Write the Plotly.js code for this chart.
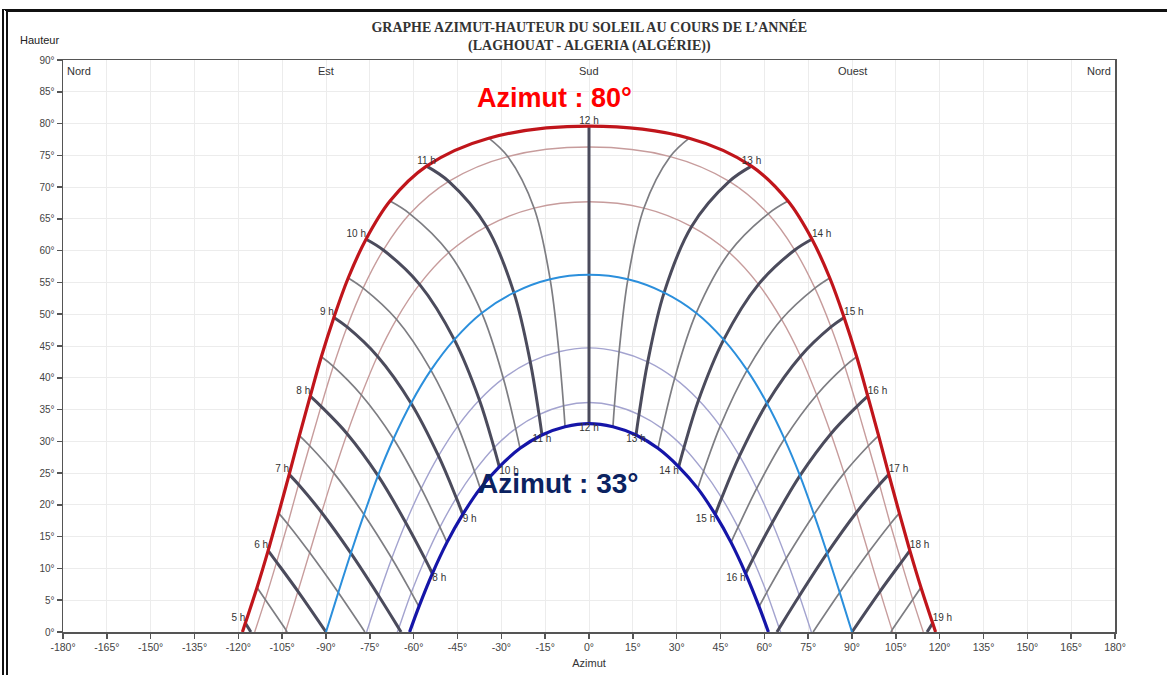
<!DOCTYPE html>
<html>
<head>
<meta charset="utf-8">
<script src="https://cdn.plot.ly/plotly-3.0.1.min.js"></script>
<style>
  html, body { margin: 0; padding: 0; background: #fff; }
  #chart { width: 1167px; height: 675px; }
  #frame { position: absolute; left: 2px; top: 9px; width: 1170px; height: 700px;
           border-top: 3px solid #111; border-left: 6px double #111; pointer-events: none; }
</style>
</head>
<body>
<div id="chart"></div>
<div id="frame"></div>
<script>
// Solar time, half-hour steps from 5 h to 19 h
const hours = [5,5.5,6,6.5,7,7.5,8,8.5,9,9.5,10,10.5,11,11.5,12,12.5,13,13.5,14,14.5,15,15.5,16,16.5,17,17.5,18,18.5,19];

// Day curves (21 June ... 21 December), azimuth (°) and altitude (°) at each half hour
const azJun = [-117.6,-113.6,-109.8,-106.2,-102.6,-99.1,-95.4,-91.6,-87.3,-82.4,-76.3,-68.1,-55.6,-34.3,0,34.3,55.6,68.1,76.3,82.4,87.3,91.6,95.4,99.1,102.6,106.2,109.8,113.6,117.6];
const altJun = [1.4,7.0,12.8,18.7,24.8,30.9,37.1,43.3,49.5,55.7,61.8,67.8,73.3,77.7,79.6,77.7,73.3,67.8,61.8,55.7,49.5,43.3,37.1,30.9,24.8,18.7,12.8,7.0,1.4];

const azMay = [null,-110.8,-106.9,-103.1,-99.4,-95.6,-91.7,-87.5,-82.8,-77.3,-70.4,-61.3,-48.0,-27.8,0,27.8,48.0,61.3,70.4,77.3,82.8,87.5,91.7,95.6,99.4,103.1,106.9,110.8,null];
const altMay = [null,5.1,11.0,17.0,23.2,29.3,35.5,41.8,48.0,54.1,60.1,65.8,70.9,74.8,76.3,74.8,70.9,65.8,60.1,54.1,48.0,41.8,35.5,29.3,23.2,17.0,11.0,5.1,null];

const azApr = [null,-103.7,-99.6,-95.6,-91.5,-87.3,-82.8,-77.9,-72.4,-65.9,-58.0,-48.0,-35.1,-18.8,0,18.8,35.1,48.0,58.0,65.9,72.4,77.9,82.8,87.3,91.5,95.6,99.6,103.7,null];
const altApr = [null,0.3,6.4,12.5,18.8,25.0,31.2,37.3,43.4,49.2,54.7,59.7,63.8,66.7,67.7,66.7,63.8,59.7,54.7,49.2,43.4,37.3,31.2,25.0,18.8,12.5,6.4,0.3,null];

const azMar = [null,null,-90,-85.8,-81.5,-77.0,-72.2,-66.9,-60.9,-54.1,-46.1,-36.7,-25.7,-13.3,0,13.3,25.7,36.7,46.1,54.1,60.9,66.9,72.2,77.0,81.5,85.8,90,null,null];
const altMar = [null,null,0,6.2,12.4,18.5,24.6,30.4,36.0,41.2,46.0,50.2,53.4,55.5,56.2,55.5,53.4,50.2,46.0,41.2,36.0,30.4,24.6,18.5,12.4,6.2,0,null,null];

const azFeb = [null,null,null,null,-72.0,-67.5,-62.7,-57.4,-51.5,-44.9,-37.5,-29.3,-20.1,-10.3,0,10.3,20.1,29.3,37.5,44.9,51.5,57.4,62.7,67.5,72.0,null,null,null,null];
const altFeb = [null,null,null,null,5.7,11.6,17.2,22.6,27.7,32.4,36.5,39.9,42.5,44.1,44.7,44.1,42.5,39.9,36.5,32.4,27.7,22.6,17.2,11.6,5.7,null,null,null,null];

const azJan = [null,null,null,null,-65.1,-60.8,-56.1,-51.0,-45.4,-39.2,-32.5,-25.1,-17.1,-8.7,0,8.7,17.1,25.1,32.5,39.2,45.4,51.0,56.1,60.8,65.1,null,null,null,null];
const altJan = [null,null,null,null,0.6,6.2,11.5,16.5,21.1,25.3,29.0,32.0,34.2,35.6,36.1,35.6,34.2,32.0,29.0,25.3,21.1,16.5,11.5,6.2,0.6,null,null,null,null];

const azDec = [null,null,null,null,null,-58.2,-53.6,-48.6,-43.2,-37.2,-30.7,-23.6,-16.1,-8.2,0,8.2,16.1,23.6,30.7,37.2,43.2,48.6,53.6,58.2,null,null,null,null,null];
const altDec = [null,null,null,null,null,4.0,9.2,14.1,18.5,22.6,26.0,28.9,31.0,32.3,32.8,32.3,31.0,28.9,26.0,22.6,18.5,14.1,9.2,4.0,null,null,null,null,null];

// Sunrise / sunset azimuths for each day curve (altitude 0)
const sunriseAz = [-118.6,-114.4,-103.9,-90,-76.1,-65.6,-61.4];
const sunsetAz  = [118.6,114.4,103.9,90,76.1,65.6,61.4];

// Azimuth where each hour line meets the horizon (null: ends on 21 December)
const hourHorizonAz = [-115.7,-103.3,-90,-76.7,-64.3,null,null,null,null,null,null,null,null,null,null,null,null,null,null,null,null,null,null,null,64.3,76.7,90,103.3,115.7];

// Tick labels
const xTicks = [-180,-165,-150,-135,-120,-105,-90,-75,-60,-45,-30,-15,0,15,30,45,60,75,90,105,120,135,150,165,180];
const yTicks = [0,5,10,15,20,25,30,35,40,45,50,55,60,65,70,75,80,85,90];
const directions = ['Nord','Est','Sud','Ouest','Nord'];
const directionAz = [-180,-90,0,90,180];

// ---------------- build traces ----------------
const dayAz = [azJun, azMay, azApr, azMar, azFeb, azJan, azDec];
const dayAlt = [altJun, altMay, altApr, altMar, altFeb, altJan, altDec];
const dayStyle = [
  {color:'#c0151b', width:3.2},
  {color:'#c79c9c', width:1.4},
  {color:'#c79c9c', width:1.4},
  {color:'#2b8fdc', width:2},
  {color:'#a3a3cf', width:1.4},
  {color:'#a3a3cf', width:1.4},
  {color:'#1515a8', width:3.2}
];

function dayTrace(d) {
  const x = [], y = [];
  const az = dayAz[d], alt = dayAlt[d];
  const idx = [];
  for (let j = 0; j < hours.length; j++) if (az[j] !== null) idx.push(j);
  if (alt[idx[0]] !== 0) { x.push(sunriseAz[d]); y.push(0); }
  idx.forEach(j => { x.push(az[j]); y.push(alt[j]); });
  if (alt[idx[idx.length-1]] !== 0) { x.push(sunsetAz[d]); y.push(0); }
  return {x, y, type:'scatter', mode:'lines', hoverinfo:'skip',
          line:{color:dayStyle[d].color, width:dayStyle[d].width, shape:'spline'}};
}

function hourTrace(j) {
  const x = [], y = [];
  for (let d = 0; d < dayAz.length; d++) {
    if (dayAz[d][j] !== null) { x.push(dayAz[d][j]); y.push(dayAlt[d][j]); }
  }
  if (hourHorizonAz[j] !== null && y[y.length-1] !== 0) { x.push(hourHorizonAz[j]); y.push(0); }
  const whole = Number.isInteger(hours[j]);
  return {x, y, type:'scatter', mode:'lines', hoverinfo:'skip',
          line:{color: whole ? '#4b4b5c' : '#7d7d82', width: whole ? 3 : 1.7, shape:'spline', smoothing:1}};
}

const traces = [];
[1,2,4,5].forEach(d => traces.push(dayTrace(d)));
for (let j = 0; j < hours.length; j++) if (!Number.isInteger(hours[j])) traces.push(hourTrace(j));
for (let j = 0; j < hours.length; j++) if (Number.isInteger(hours[j])) traces.push(hourTrace(j));
[3,0,6].forEach(d => traces.push(dayTrace(d)));

// Hour labels on 21 June and 21 December
function labelTrace(d, hMin, hMax, posFn) {
  const x = [], y = [], text = [], pos = [];
  for (let j = 0; j < hours.length; j++) {
    const h = hours[j];
    if (!Number.isInteger(h) || h < hMin || h > hMax || dayAz[d][j] === null) continue;
    x.push(dayAz[d][j]); y.push(dayAlt[d][j]); text.push(h + ' h'); pos.push(posFn(h));
  }
  return {x, y, text, type:'scatter', mode:'text', textposition:pos, hoverinfo:'skip',
          textfont:{family:'Liberation Sans, Arial, sans-serif', size:10, color:'#333'}};
}
traces.push(labelTrace(0, 5, 19, h => h < 11 ? 'top left' : (h > 13 ? 'top right' : 'top center')));
traces.push(labelTrace(6, 8, 16, h => h < 11 ? 'bottom right' : (h > 13 ? 'bottom left' : 'bottom center')));

const annotations = directions.map((t, i) => ({
  x: directionAz[i], y: 90, xref:'x', yref:'y', text:t, showarrow:false,
  xanchor: i === 0 ? 'left' : (i === directions.length-1 ? 'right' : 'center'),
  yanchor:'top', yshift:-3, xshift: i === 0 ? 2 : (i === directions.length-1 ? -2 : 0),
  font:{family:'Liberation Sans, Arial, sans-serif', size:11, color:'#333'}
}));
annotations.push({x:-0.022, y:1.035, xref:'paper', yref:'paper', text:'Hauteur', showarrow:false,
  xanchor:'center', yanchor:'middle', font:{family:'Liberation Sans, Arial, sans-serif', size:11, color:'#222'}});
annotations.push({x:-11.8, y:84.0, xref:'x', yref:'y', text:'<b>Azimut : 80°</b>', showarrow:false,
  xanchor:'center', yanchor:'middle', font:{family:'Liberation Sans, Arial, sans-serif', size:27, color:'#ff0000'}});
annotations.push({x:-10.6, y:23.3, xref:'x', yref:'y', text:'<b>Azimut : 33°</b>', showarrow:false,
  xanchor:'center', yanchor:'middle', font:{family:'Liberation Sans, Arial, sans-serif', size:28, color:'#0b2260'}});

const layout = {
  width:1167, height:675,
  margin:{l:63, r:52, t:60, b:43},
  paper_bgcolor:'#fff', plot_bgcolor:'#fff',
  showlegend:false,
  title:{text:'<b>GRAPHE AZIMUT-HAUTEUR DU SOLEIL AU COURS DE L\u2019ANNÉE<br>(LAGHOUAT - ALGERIA (ALGÉRIE))</b>',
         font:{family:'Liberation Serif, Times New Roman, serif', size:14, color:'#333'},
         x:0.505, xanchor:'center', y:0.953, yref:'container', yanchor:'middle'},
  xaxis:{range:[-180,180], tickvals:xTicks, ticktext:xTicks.map(v => v + '°'),
         showgrid:true, gridcolor:'#ececec', gridwidth:1, zeroline:false,
         showline:true, linecolor:'#555', linewidth:1.5, mirror:true,
         ticks:'outside', ticklen:5, tickcolor:'#555', tickwidth:1.5,
         tickfont:{family:'Liberation Sans, Arial, sans-serif', size:10.5, color:'#444'},
         title:{text:'Azimut', standoff:7, font:{family:'Liberation Sans, Arial, sans-serif', size:11, color:'#333'}},
         fixedrange:true},
  yaxis:{range:[0,90], tickvals:yTicks, ticktext:yTicks.map(v => v + '°'),
         showgrid:true, gridcolor:'#ececec', gridwidth:1, zeroline:false,
         showline:true, linecolor:'#555', linewidth:1.5, mirror:true,
         ticks:'outside', ticklen:5, tickcolor:'#555', tickwidth:1.5,
         tickfont:{family:'Liberation Sans, Arial, sans-serif', size:10, color:'#444'},
         fixedrange:true},
  annotations
};

Plotly.newPlot('chart', traces, layout, {displayModeBar:false, staticPlot:true});
</script>
</body>
</html>
